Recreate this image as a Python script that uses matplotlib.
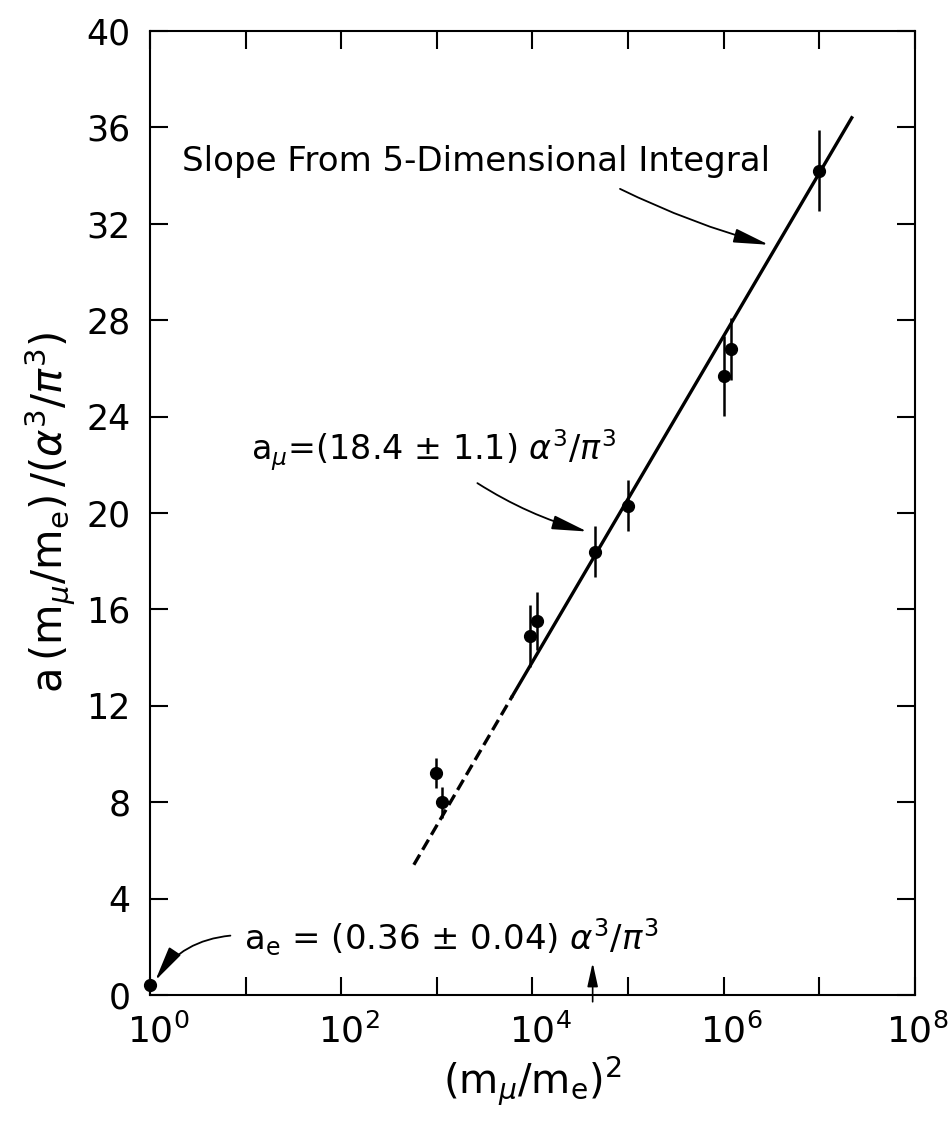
import numpy as np
import matplotlib
matplotlib.use("Agg")
import matplotlib.pyplot as plt
from matplotlib.ticker import FixedLocator
from matplotlib.transforms import ScaledTranslation

# Data
pt_x = [1.0, 9.8e2, 1.12e3, 9.5e3, 1.12e4, 4.47e4, 1.0e5, 1.0e6, 1.2e6, 1.0e7]
pt_y = [0.40, 9.2, 8.0, 14.9, 15.5, 18.4, 20.3, 25.7, 26.8, 34.2]
pt_err = [0.0, 0.62, 0.64, 1.3, 1.2, 1.05, 1.05, 1.66, 1.29, 1.68]

dash_x = [10**2.76, 10**3.79]
dash_y = [5.4, 12.4]
solid_x = [10**3.79, 10**7.34]
solid_y = [12.4, 36.4]

y_ticks = [0, 4, 8, 12, 16, 20, 24, 28, 32, 36, 40]
x_major = [10.0**k for k in range(0, 9)]
x_labeled = [10.0**k for k in range(0, 9, 2)]

plt.rcParams['font.family'] = ['DejaVu Sans']
plt.rcParams['mathtext.fontset'] = 'dejavusans'

fig = plt.figure(figsize=(9.51, 11.28), dpi=100)
ax = fig.add_axes([0.1577, 0.1180, 0.8043, 0.8545])

ax.set_xscale('log')
ax.set_xlim(1, 1e8)
ax.set_ylim(0, 40)

ax.plot(dash_x, dash_y, color='black', lw=2.4, ls=(0, (3.5, 1.7)))
ax.plot(solid_x, solid_y, color='black', lw=2.4)
ax.errorbar(pt_x, pt_y, yerr=pt_err, fmt='o', color='black', ms=8.5,
            elinewidth=1.8, capsize=0, clip_on=False, zorder=5)

ax.xaxis.set_major_locator(FixedLocator(x_major))
ax.xaxis.set_minor_locator(FixedLocator([]))
ax.set_xticks(x_major)
ax.set_xticklabels([r'$10^{%d}$' % int(np.log10(v)) if v in x_labeled else ''
                    for v in x_major])
ax.set_yticks(y_ticks)
ax.set_yticklabels([str(v) for v in y_ticks])

ax.tick_params(axis='both', which='major', direction='in', length=13, width=1.5,
               top=True, right=True)
ax.tick_params(axis='x', pad=13, labelsize=26)
ax.tick_params(axis='y', pad=14, labelsize=25)
xlabs = ax.get_xticklabels()
for i, lab in enumerate(xlabs):
    dx = 0.02 if i == len(xlabs) - 1 else 0.08
    lab.set_transform(lab.get_transform() + ScaledTranslation(dx, 0, fig.dpi_scale_trans))
for s in ax.spines.values():
    s.set_linewidth(1.5)

ax.set_xlabel(r'$(\mathrm{m}_{\mu}/\mathrm{m_e})^2$', fontsize=29, labelpad=4)
ax.set_ylabel(r'$\mathrm{a}\,(\mathrm{m}_{\mu}/\mathrm{m_e})\,/(\alpha^3/\pi^3)$',
              fontsize=30, labelpad=6)

arrow_style = '-|>,head_length=0.9,head_width=0.18'

# Annotations
ax.text(10**0.34, 34.6, 'Slope From 5-Dimensional Integral', fontsize=24.5,
        ha='left', va='center')
ax.annotate('', xy=(10**6.5, 31.1), xytext=(10**4.89, 33.5),
            arrowprops=dict(arrowstyle=arrow_style, color='black', lw=1.3,
                            mutation_scale=24, connectionstyle='arc3,rad=0.05'))

ax.text(10**1.06, 22.6, r'$\mathrm{a}_{\mu}$=(18.4 ± 1.1) $\alpha^3/\pi^3$',
        fontsize=24, ha='left', va='center')
ax.annotate('', xy=(10**4.6, 19.2), xytext=(10**3.4, 21.3),
            arrowprops=dict(arrowstyle=arrow_style, color='black', lw=1.3,
                            mutation_scale=24, connectionstyle='arc3,rad=0.08'))

ax.text(10**0.98, 2.4, r'$\mathrm{a_e}$ = (0.36 ± 0.04) $\alpha^3/\pi^3$',
        fontsize=24.5, ha='left', va='center')
ax.annotate('', xy=(10**0.04, 0.5), xytext=(10**0.87, 2.47),
            arrowprops=dict(arrowstyle=arrow_style, color='black', lw=1.3,
                            mutation_scale=24, connectionstyle='arc3,rad=0.25'),
            annotation_clip=False)

ax.annotate('', xy=(10**4.63, 1.45), xytext=(10**4.63, -0.4),
            arrowprops=dict(arrowstyle='-|>,head_length=0.9,head_width=0.2',
                            color='black', lw=1.2, mutation_scale=16),
            annotation_clip=False)

fig.savefig('out.png', dpi=100, facecolor='white')
